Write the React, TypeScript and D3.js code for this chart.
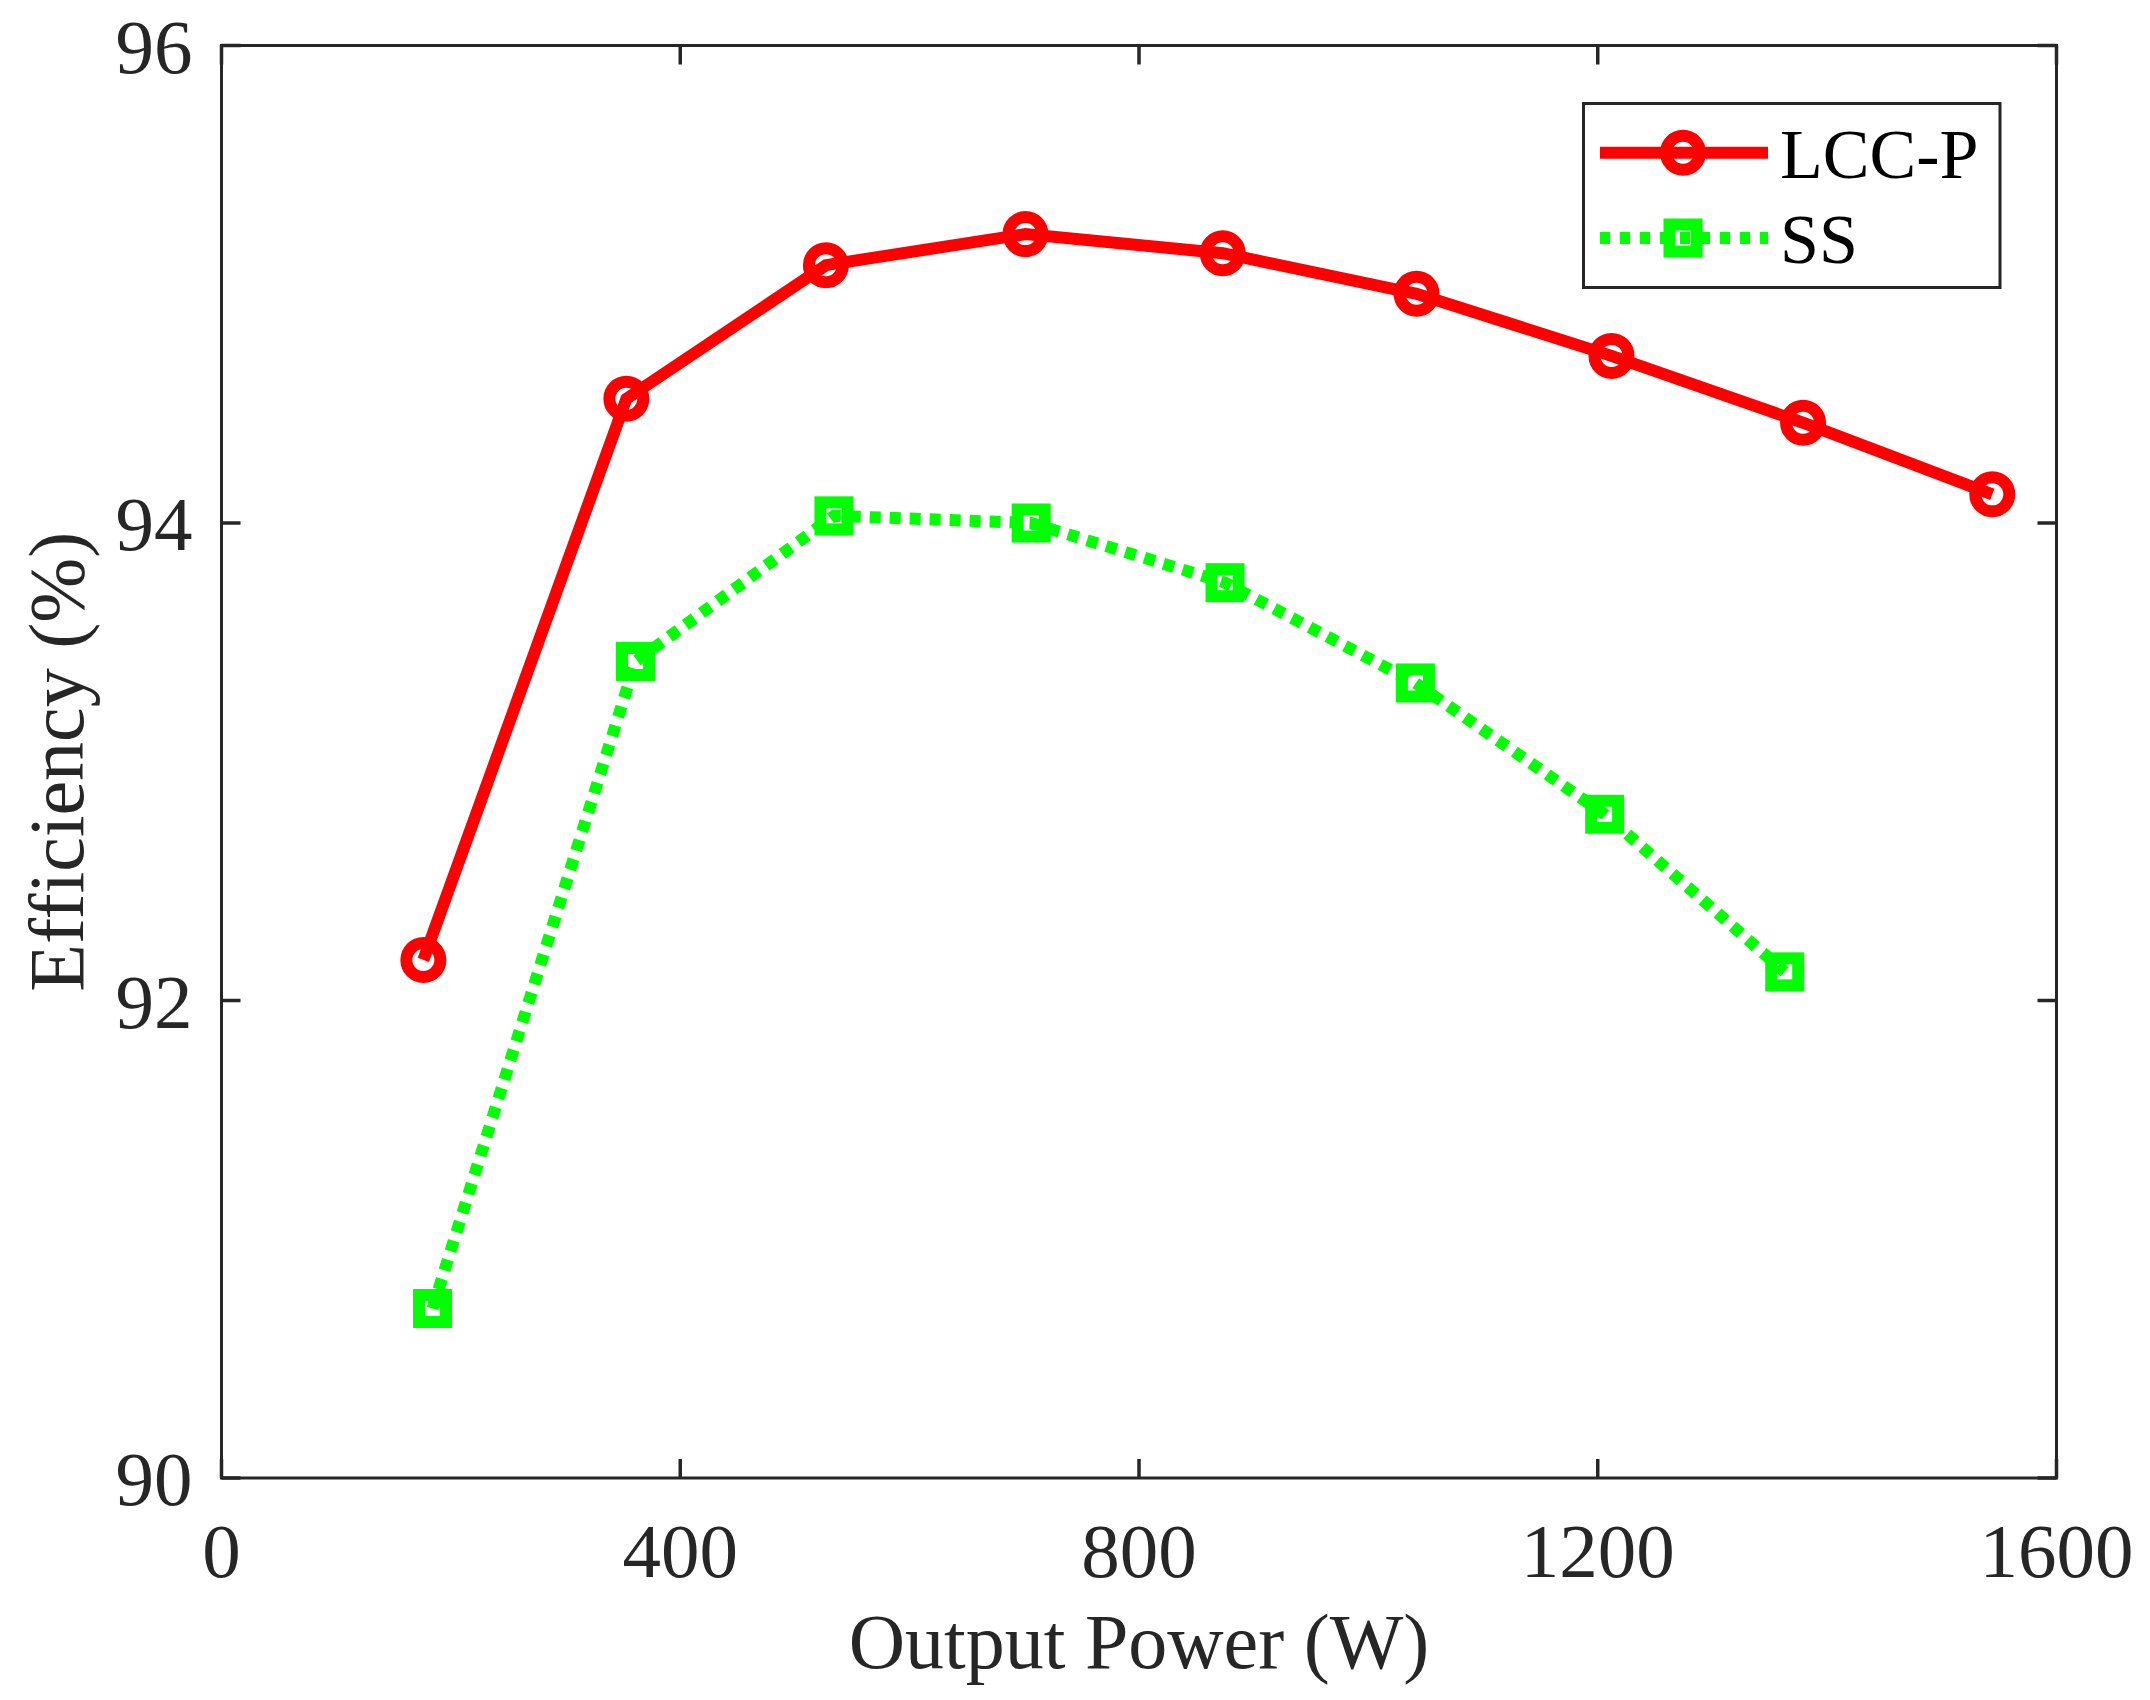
/**
 * Efficiency vs output power — LCC-P vs SS compensation, MATLAB-style line chart
 */
import { useEffect, useRef } from 'react';
import * as d3 from 'd3';

const lccPower = [176, 353, 527, 701, 873, 1042, 1212, 1379, 1544];
const lccEff = [92.17, 94.52, 95.08, 95.21, 95.13, 94.96, 94.70, 94.42, 94.12];
const ssPower = [184, 361, 534, 706, 875, 1041, 1206, 1363];
const ssEff = [90.71, 93.42, 94.03, 94.00, 93.75, 93.33, 92.78, 92.12];

const xTicks = [0, 400, 800, 1200, 1600];
const yTicks = [90, 92, 94, 96];
const seriesNames = ['LCC-P', 'SS'];

const W = 2150, H = 1700;
const FONT = '"Liberation Serif", "Times New Roman", serif';
const AX = '#262626';

export default function App() {
  const svgRef = useRef<SVGSVGElement>(null);

  useEffect(() => {
    if (!svgRef.current) return;
    const svg = d3.select(svgRef.current);
    svg.selectAll('*').remove();

    const m = { l: 221.5, t: 45.5, r: W - 2056.5, b: H - 1478 };
    const iw = W - m.l - m.r, ih = H - m.t - m.b;

    const x = d3.scaleLinear().domain([0, 1600]).range([0, iw]);
    const y = d3.scaleLinear().domain([90, 96]).range([ih, 0]);

    svg.append('rect').attr('width', W).attr('height', H).attr('fill', '#fff');
    const g = svg.append('g').attr('transform', `translate(${m.l},${m.t})`);

    // ticks (inward, all four sides)
    const tl = 19;
    xTicks.forEach(v => {
      g.append('line').attr('x1', x(v)).attr('x2', x(v)).attr('y1', ih).attr('y2', ih - tl)
        .attr('stroke', AX).attr('stroke-width', 3.5);
      g.append('line').attr('x1', x(v)).attr('x2', x(v)).attr('y1', 0).attr('y2', tl)
        .attr('stroke', AX).attr('stroke-width', 3.5);
      g.append('text').attr('x', x(v)).attr('y', ih + 99).attr('text-anchor', 'middle')
        .attr('fill', AX).attr('font-size', '77px').attr('font-family', FONT).text(v);
    });
    yTicks.forEach(v => {
      g.append('line').attr('x1', 0).attr('x2', tl).attr('y1', y(v)).attr('y2', y(v))
        .attr('stroke', AX).attr('stroke-width', 3.5);
      g.append('line').attr('x1', iw).attr('x2', iw - tl).attr('y1', y(v)).attr('y2', y(v))
        .attr('stroke', AX).attr('stroke-width', 3.5);
      g.append('text').attr('x', -29).attr('y', y(v) + 27).attr('text-anchor', 'end')
        .attr('fill', AX).attr('font-size', '77px').attr('font-family', FONT).text(v);
    });

    // box
    g.append('rect').attr('width', iw).attr('height', ih)
      .attr('fill', 'none').attr('stroke', AX).attr('stroke-width', 3);

    // axis labels
    g.append('text').attr('x', iw / 2).attr('y', 1668 - m.t).attr('text-anchor', 'middle')
      .attr('fill', AX).attr('font-size', '78px').attr('font-family', FONT).text('Output Power (W)');
    g.append('text').attr('transform', `translate(${83 - m.l},${ih / 2}) rotate(-90)`)
      .attr('text-anchor', 'middle')
      .attr('fill', AX).attr('font-size', '78px').attr('font-family', FONT).text('Efficiency (%)');

    const line = d3.line<[number, number]>().x(d => x(d[0])).y(d => y(d[1]));
    const lcc = lccPower.map((p, i) => [p, lccEff[i]] as [number, number]);
    const ss = ssPower.map((p, i) => [p, ssEff[i]] as [number, number]);

    // SS — dotted green with squares
    g.append('path').datum(ss).attr('d', line).attr('fill', 'none')
      .attr('stroke', '#00ff00').attr('stroke-width', 12).attr('stroke-dasharray', '11,9');
    ss.forEach(d => {
      g.append('rect').attr('x', x(d[0]) - 13.5).attr('y', y(d[1]) - 13.5).attr('width', 27).attr('height', 27)
        .attr('fill', 'none').attr('stroke', '#00ff00').attr('stroke-width', 12);
    });

    // LCC-P — solid red with circles
    g.append('path').datum(lcc).attr('d', line).attr('fill', 'none')
      .attr('stroke', '#ff0000').attr('stroke-width', 12);
    lcc.forEach(d => {
      g.append('circle').attr('cx', x(d[0])).attr('cy', y(d[1])).attr('r', 17)
        .attr('fill', 'none').attr('stroke', '#ff0000').attr('stroke-width', 12);
    });

    // legend
    const lg = svg.append('g');
    lg.append('rect').attr('x', 1583.5).attr('y', 103.5).attr('width', 416.5).attr('height', 184)
      .attr('fill', '#fff').attr('stroke', AX).attr('stroke-width', 3);
    const rows = [152.7, 238];
    seriesNames.forEach((name, i) => {
      const ry = rows[i];
      const col = i === 0 ? '#ff0000' : '#00ff00';
      lg.append('line').attr('x1', 1600).attr('x2', 1768).attr('y1', ry).attr('y2', ry)
        .attr('stroke', col).attr('stroke-width', 12)
        .attr('stroke-dasharray', i === 0 ? null : '10,10');
      if (i === 0) {
        lg.append('circle').attr('cx', 1683).attr('cy', ry).attr('r', 17)
          .attr('fill', 'none').attr('stroke', col).attr('stroke-width', 12);
      } else {
        lg.append('rect').attr('x', 1683 - 13.5).attr('y', ry - 13.5).attr('width', 27).attr('height', 27)
          .attr('fill', 'none').attr('stroke', col).attr('stroke-width', 12);
      }
      lg.append('text').attr('x', 1780).attr('y', ry + 25).attr('fill', '#000')
        .attr('font-size', '70px').attr('font-family', FONT).text(name);
    });
  }, []);

  return (
    <svg ref={svgRef} width={W} height={H} viewBox={`0 0 ${W} ${H}`}
      style={{ position: 'absolute', left: 0, top: 0, display: 'block' }} />
  );
}
